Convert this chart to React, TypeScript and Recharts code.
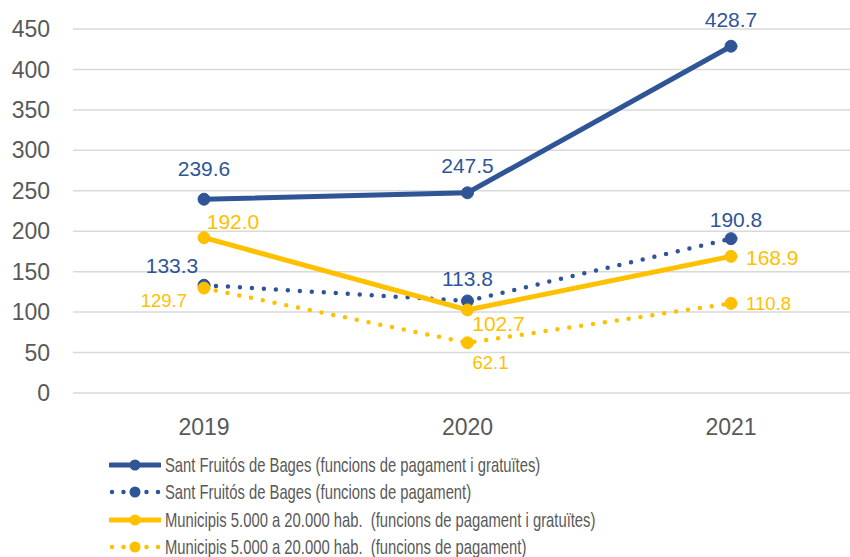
import { LineChart, Line, XAxis, YAxis, CartesianGrid, LabelList } from 'recharts'

const years = ['2019', '2020', '2021']
const santTotal = [239.6, 247.5, 428.7]
const santPaid = [133.3, 113.8, 190.8]
const muniTotal = [192.0, 102.7, 168.9]
const muniPaid = [129.7, 62.1, 110.8]
const yTicks = [0, 50, 100, 150, 200, 250, 300, 350, 400, 450]

const BLUE = '#2F5597'
const GOLD = '#FFC000'
const GREY = '#595959'
const FONT = 'Liberation Sans, Arial, sans-serif'

const series = [
  { key: 'santTotal', name: 'Sant Fruitós de Bages (funcions de pagament i gratuïtes)', color: BLUE, dotted: false },
  { key: 'santPaid', name: 'Sant Fruitós de Bages (funcions de pagament)', color: BLUE, dotted: true },
  { key: 'muniTotal', name: 'Municipis 5.000 a 20.000 hab.  (funcions de pagament i gratuïtes)', color: GOLD, dotted: false },
  { key: 'muniPaid', name: 'Municipis 5.000 a 20.000 hab.  (funcions de pagament)', color: GOLD, dotted: true },
]

// label placement per series, per point: [dx, dy, anchor, fontSize]
const labelPlace: Record<string, [number, number, string, number][]> = {
  santTotal: [[0, -31, 'middle', 21], [0, -27, 'middle', 21], [0, -27, 'middle', 21]],
  santPaid: [[-32, -20, 'middle', 21], [0, -22, 'middle', 21], [5, -19, 'middle', 21]],
  muniTotal: [[29, -16, 'middle', 21], [31, 14, 'middle', 21], [15, 1, 'start', 21]],
  muniPaid: [[-17, 12, 'end', 18.5], [23, 20, 'middle', 18.5], [15, 0, 'start', 18.5]],
}

const data = years.map((y, i) => ({
  year: y,
  santTotal: santTotal[i],
  santPaid: santPaid[i],
  muniTotal: muniTotal[i],
  muniPaid: muniPaid[i],
}))

function makeLabel(key: string, color: string) {
  return (props: any) => {
    const { x, y, value, index } = props
    const [dx, dy, anchor, fs] = labelPlace[key][index]
    return (
      <text
        x={x + dx}
        y={y + dy}
        fill={color}
        fontSize={fs}
        textAnchor={anchor}
        dominantBaseline="central"
        fontFamily={FONT}
      >
        {Number(value).toFixed(1)}
      </text>
    )
  }
}

function LegendSample({ color, dotted }: { color: string; dotted: boolean }) {
  return (
    <svg width={52} height={14} style={{ display: 'block' }}>
      {dotted ? (
        <line x1={3} y1={7} x2={50} y2={7} stroke={color} strokeWidth={4.5} strokeDasharray="0 11.5" strokeLinecap="round" />
      ) : (
        <line x1={1} y1={7} x2={51} y2={7} stroke={color} strokeWidth={5} strokeLinecap="round" />
      )}
      <circle cx={26} cy={7} r={5.5} fill={color} />
    </svg>
  )
}

export default function App() {
  return (
    <div style={{ position: 'absolute', left: 0, top: 0, width: 850, height: 557, overflow: 'hidden', background: '#fff' }}>
      <LineChart width={870} height={557} data={data} margin={{ top: 29, right: 8, left: 0, bottom: 124 }}>
        <CartesianGrid vertical={false} stroke="#D9D9D9" strokeWidth={1.5} />
        <XAxis
          dataKey="year"
          axisLine={false}
          tickLine={false}
          padding={{ left: 131, right: 131 }}
          tick={{ fill: GREY, fontSize: 23, fontFamily: FONT }}
          tickMargin={20}
          height={40}
        />
        <YAxis
          domain={[0, 450]}
          ticks={yTicks}
          axisLine={false}
          tickLine={false}
          tickSize={0}
          tickMargin={23}
          width={73}
          tick={{ fill: GREY, fontSize: 23, fontFamily: FONT }}
        />
        {series.map((s) => (
          <Line
            key={s.key}
            dataKey={s.key}
            name={s.name}
            stroke={s.color}
            strokeWidth={s.dotted ? 4.5 : 5}
            strokeDasharray={s.dotted ? '0 12' : undefined}
            strokeLinecap="round"
            dot={{ r: 6, fill: s.color, stroke: s.color, strokeWidth: 1, strokeDasharray: '' }}
            activeDot={false}
            isAnimationActive={false}
          >
            <LabelList dataKey={s.key} content={makeLabel(s.key, s.color)} />
          </Line>
        ))}
      </LineChart>
      <div style={{ position: 'absolute', left: 109, top: 451, fontFamily: FONT, fontSize: 21, color: GREY }}>
        {series.map((s) => (
          <div key={s.key} style={{ display: 'flex', alignItems: 'center', height: 27.5 }}>
            <LegendSample color={s.color} dotted={s.dotted} />
            <span
              style={{
                marginLeft: 4,
                whiteSpace: 'pre',
                display: 'inline-block',
                transform: 'scaleX(0.705)',
                transformOrigin: 'left center',
              }}
            >
              {s.name}
            </span>
          </div>
        ))}
      </div>
    </div>
  )
}
